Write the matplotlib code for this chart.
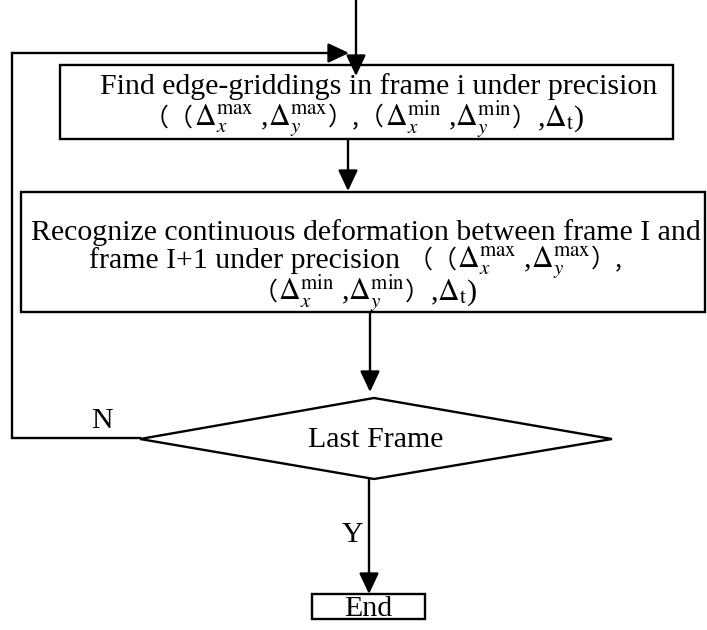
import matplotlib.pyplot as plt
from matplotlib.patches import Rectangle, Polygon, FancyArrowPatch
from matplotlib.offsetbox import TextArea, HPacker, AnnotationBbox

plt.rcParams['mathtext.fontset'] = 'stix'
serif = ['Liberation Serif', 'DejaVu Serif']
cjk = ['Noto Sans CJK SC', 'DejaVu Sans']

# node labels (rich lines are given as pieces)
dmax = r'$\Delta_x^{\mathrm{max}}$ ,$\Delta_y^{\mathrm{max}}$'
dmin = r'$\Delta_x^{\mathrm{min}}$ ,$\Delta_y^{\mathrm{min}}$'
dt = r',$\Delta_{\mathrm{t}}$)'
find_line1 = 'Find edge-griddings in frame i under precision'
find_line2 = ['（（', dmax, '）,（', dmin, '）', dt]
recog_line1 = 'Recognize continuous deformation between frame I and'
recog_line2 = ['frame I+1 under precision ', '（（', dmax, '）,']
recog_line3 = ['（', dmin, '）', dt]
decision_label = 'Last Frame'
end_label = 'End'
no_label = 'N'
yes_label = 'Y'

fig = plt.figure(figsize=(7.07, 6.3), dpi=100)
ax = fig.add_axes([0, 0, 1, 1])
ax.set_xlim(0, 707)
ax.set_ylim(630, 0)
ax.axis('off')

lw = 1.7
fs = 21.5
fs_paren = 18


def txt(x, y, s, ha='center', va='baseline'):
    ax.text(x, y, s, fontsize=fs, family=serif, ha=ha, va=va)


def rich(x, y, pieces):
    areas = []
    for p in pieces:
        if '（' in p or '）' in p:
            props = dict(fontsize=fs_paren, family=cjk)
        else:
            props = dict(fontsize=fs, family=serif)
        areas.append(TextArea(p, textprops=props))
    pack = HPacker(children=areas, align='baseline', pad=0, sep=0)
    ab = AnnotationBbox(pack, (x, y), xycoords='data', frameon=False,
                        box_alignment=(0.5, 0.5), pad=0)
    ax.add_artist(ab)


def arrow(p0, p1):
    ax.add_patch(FancyArrowPatch(p0, p1, arrowstyle='-|>,head_length=0.85,head_width=0.4',
                                 mutation_scale=15, lw=lw, color='black',
                                 shrinkA=0, shrinkB=0))


# boxes
ax.add_patch(Rectangle((60, 65), 613, 74, fill=False, lw=lw, ec='black'))
ax.add_patch(Rectangle((21, 192), 684, 120, fill=False, lw=lw, ec='black'))
ax.add_patch(Rectangle((312, 594), 113, 25, fill=False, lw=lw, ec='black'))
ax.add_patch(Polygon([(140, 439), (374, 398), (612, 439), (374, 479)],
                     closed=True, fill=False, lw=lw, ec='black'))

# connectors
arrow((356, 0), (356, 76))
arrow((348, 139), (348, 191))
arrow((370, 312), (370, 392))
arrow((369, 479), (369, 594))
ax.plot([140, 12, 12], [438, 438, 53], color='black', lw=lw, solid_joinstyle='miter')
arrow((12, 53), (349, 53))

# texts
txt(379, 94, find_line1)
rich(364, 119, find_line2)
txt(366, 240, recog_line1)
rich(356, 263, recog_line2)
rich(365, 293, recog_line3)
txt(376, 447, decision_label)
txt(368, 616, end_label)
txt(102, 428, no_label)
txt(353, 542, yes_label)

fig.savefig('out.png', dpi=100)
